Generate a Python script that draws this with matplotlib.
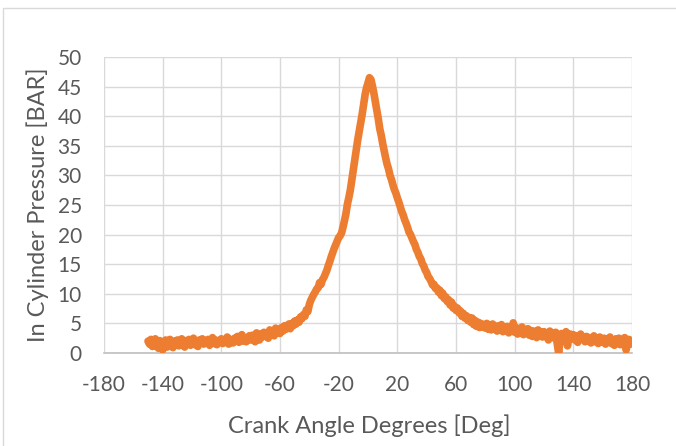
import numpy as np
import matplotlib
matplotlib.use("Agg")
import matplotlib.pyplot as plt
from matplotlib.patches import Rectangle

# Crank angle samples (deg) and measured in-cylinder pressure (bar)
crank_angle = np.arange(-150, 181, 1)
pressure = [
    2.0, 1.5, 2.3, 1.1, 1.9, 2.4, 1.3, 0.8, 2.1, 1.6,        # -150 .. -141
    0.5, 1.8, 2.2, 1.0, 1.7, 2.3, 1.4, 0.9, 2.0, 1.5,        # -140 .. -131
    2.2, 1.2, 1.8, 2.4, 1.6, 1.0, 2.1, 1.7, 2.3, 1.3,        # -130 .. -121
    1.9, 2.5, 1.4, 2.0, 1.1, 2.2, 1.8, 2.4, 1.5, 2.1,        # -120 .. -111
    1.7, 2.3, 1.3, 2.0, 2.6, 1.6, 2.2, 1.4, 2.1, 1.8,        # -110 .. -101
    2.4, 1.6, 2.2, 1.9, 2.7, 1.5, 2.3, 2.0, 1.7, 2.5,        # -100 .. -91
    2.1, 2.8, 1.8, 2.4, 3.1, 2.0, 2.6, 1.9, 2.3, 2.9,        # -90 .. -81
    2.2, 3.0, 2.5, 1.9, 3.4, 2.6, 2.2, 3.2, 2.7, 3.5,        # -80 .. -71
    2.8, 3.3, 2.5, 3.9, 3.1, 3.6, 2.9, 4.2, 3.4, 3.8,        # -70 .. -61
    3.3, 4.3, 3.7, 4.6, 4.0, 4.4, 4.9, 4.1, 5.0, 4.6,        # -60 .. -51
    5.4, 4.9, 5.6, 5.2, 6.1, 5.8, 6.5, 6.2, 7.3, 7.0,        # -50 .. -41
    8.2, 8.9, 9.4, 9.9, 10.3, 10.8, 11.0, 11.9, 11.6, 12.4,  # -40 .. -31
    12.8, 13.4, 14.0, 14.8, 15.5, 16.3, 17.0, 17.7, 18.3, 18.9,  # -30 .. -21
    19.5, 19.8, 20.3, 21.3, 22.4, 23.6, 25.2, 26.3, 27.6, 29.3,  # -20 .. -11
    31.0, 32.8, 34.3, 36.0, 37.4, 38.9, 40.3, 41.9, 43.6, 44.8,  # -10 .. -1
    45.6, 46.5, 46.2, 45.1, 43.9, 42.4, 41.0, 39.6, 37.9, 36.8,  # 0 .. 9
    35.4, 34.2, 33.0, 31.9, 31.1, 30.0, 29.3, 28.4, 27.6, 27.0,  # 10 .. 19
    26.2, 25.5, 24.7, 23.9, 23.3, 22.5, 21.9, 21.2, 20.4, 20.0,  # 20 .. 29
    19.4, 18.8, 18.3, 17.5, 17.0, 16.3, 15.9, 15.1, 14.7, 14.0,  # 30 .. 39
    13.6, 12.9, 12.6, 12.1, 11.5, 11.6, 10.9, 11.0, 10.3, 10.6,  # 40 .. 49
    9.7, 10.1, 9.2, 9.5, 8.7, 9.0, 8.1, 8.6, 7.6, 7.9,       # 50 .. 59
    7.2, 7.6, 6.8, 7.1, 6.2, 6.7, 5.9, 6.3, 5.5, 6.0,        # 60 .. 69
    5.2, 5.9, 4.8, 5.5, 4.5, 5.2, 4.3, 5.0, 4.4, 4.8,        # 70 .. 79
    4.2, 5.0, 4.0, 4.7, 3.9, 4.9, 4.1, 4.5, 3.7, 4.6,        # 80 .. 89
    4.0, 4.8, 3.6, 4.4, 3.9, 4.5, 3.4, 4.2, 3.8, 5.1,        # 90 .. 99
    3.5, 4.3, 3.2, 4.0, 3.6, 4.4, 3.1, 3.9, 3.4, 4.1,        # 100 .. 109
    3.0, 3.8, 2.8, 3.7, 3.3, 2.6, 3.9, 3.0, 3.5, 2.7,        # 110 .. 119
    3.6, 2.8, 3.2, 2.2, 3.7, 2.9, 3.4, 2.5, 3.5, 1.6,        # 120 .. 129
    0.0, 2.6, 3.3, 2.4, 3.0, 3.6, 1.2, 2.8, 3.2, 2.5,        # 130 .. 139
    3.1, 2.2, 2.9, 1.8, 2.6, 3.2, 2.3, 2.7, 1.9, 2.8,        # 140 .. 149
    2.1, 2.6, 1.7, 2.5, 2.9, 1.9, 2.4, 1.6, 2.7, 2.2,        # 150 .. 159
    1.8, 2.5, 1.5, 2.3, 2.0, 2.7, 1.6, 2.2, 1.3, 2.4,        # 160 .. 169
    1.9, 2.5, 1.4, 2.2, 1.8, 2.6, 0.5, 1.7, 2.3, 1.5,        # 170 .. 179
    1.9,                                                     # 180
]

x_ticks = list(range(-180, 181, 40))
y_ticks = list(range(0, 51, 5))

plt.rcParams['font.family'] = ['Lato', 'DejaVu Sans']
plt.rcParams['axes.unicode_minus'] = False
text_col = '#595959'
grid_col = '#D9D9D9'

fig = plt.figure(figsize=(6.76, 4.46), dpi=100)
ax = fig.add_axes([104/676, 1 - 353/446, 528/676, 296/446])

# chart area border
fig.patches.append(Rectangle((3/676, -0.1), 1.2, 1 - 8/446 + 0.1,
                             transform=fig.transFigure, fill=False,
                             edgecolor=grid_col, linewidth=1.0))

ax.plot(crank_angle, pressure, color='#ED7D31', linewidth=5.5,
        solid_capstyle='round', solid_joinstyle='round', zorder=3)

ax.set_xlim(-180, 180)
ax.set_ylim(0, 50)
ax.set_xticks(x_ticks)
ax.set_yticks(y_ticks)
ax.grid(True, color=grid_col, linewidth=1.0, zorder=0)
ax.set_axisbelow(True)
for s in ['left', 'top', 'right']:
    ax.spines[s].set_visible(False)
ax.spines['bottom'].set_color('#BFBFBF')
ax.spines['bottom'].set_linewidth(1.2)
ax.tick_params(length=0, labelsize=15, colors=text_col)
ax.tick_params(axis='x', pad=16)
ax.tick_params(axis='y', pad=16)

ax.set_xlabel('Crank Angle Degrees [Deg]', fontsize=17, color=text_col)
ax.set_ylabel('In Cylinder Pressure [BAR]', fontsize=17, color=text_col)
ax.xaxis.set_label_coords((369 - 104) / 528, (353 - 426) / 296)
ax.yaxis.set_label_coords((38 - 104) / 528, 0.5)
ax.xaxis.label.set_va('center')
ax.yaxis.label.set_va('center')

fig.savefig('out.png', dpi=100)
